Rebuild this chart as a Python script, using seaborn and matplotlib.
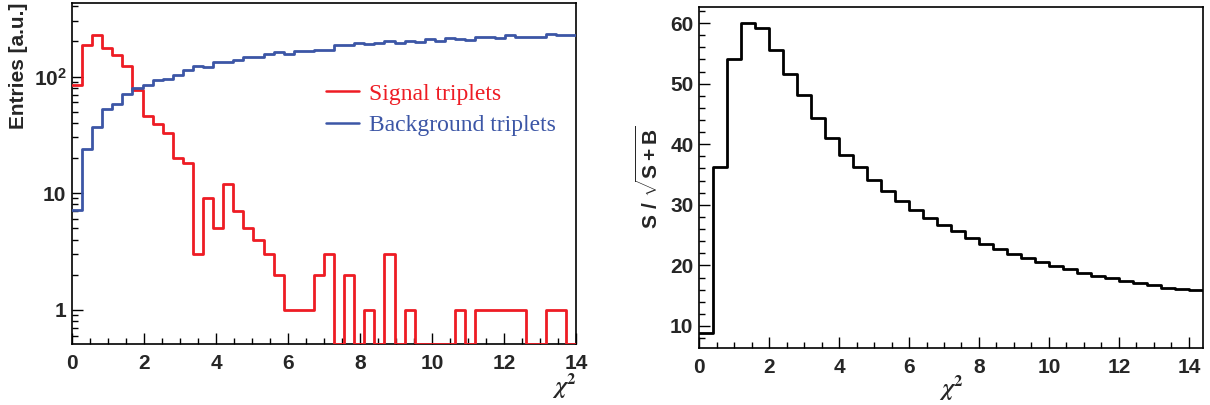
import numpy as np
import matplotlib
matplotlib.use("Agg")
import matplotlib.pyplot as plt
from matplotlib.ticker import MultipleLocator, LogLocator, NullFormatter, FixedLocator
import seaborn as sns

# left panel: chi2 distributions, 50 bins from 0 to 14
left_edges = np.linspace(0, 14, 51)
signal_counts = [84, 185, 229, 174, 152, 123, 76, 46, 39, 33,
                 20, 18, 3, 9, 5, 12, 7, 5, 4, 3,
                 2, 1, 1, 1, 2, 3, 0, 2, 0, 1,
                 0, 3, 0, 1, 0, 0, 0, 0, 1, 0,
                 1, 1, 1, 1, 1, 0, 0, 1, 1, 0]
background_counts = [7.1, 24, 37, 53, 58, 71, 80, 85, 93, 95,
                     104, 113, 123, 121, 133, 133, 138, 146, 147, 157,
                     161, 157, 165, 165, 170, 170, 185, 185, 192, 189,
                     192, 202, 192, 202, 198, 209, 203, 214, 209, 205,
                     220, 220, 214, 226, 217, 220, 220, 230, 226, 229]

# right panel: S/sqrt(S+B), 36 bins from 0 to 14.4
right_edges = np.linspace(0, 14.4, 37)
significance = [8.8, 36.2, 54.0, 60.0, 59.2, 55.5, 51.6, 48.1, 44.4, 41.1,
                38.3, 36.2, 34.1, 32.3, 30.6, 29.1, 27.9, 26.7, 25.7, 24.6,
                23.6, 22.75, 21.9, 21.2, 20.5, 19.9, 19.4, 18.8, 18.3, 17.9,
                17.5, 17.05, 16.7, 16.3, 16.1, 15.9]

sns.set_style("white")
plt.rcParams["font.family"] = ["Liberation Sans", "DejaVu Sans"]
plt.rcParams["font.weight"] = "bold"
plt.rcParams["mathtext.fontset"] = "custom"
plt.rcParams["mathtext.rm"] = "Liberation Sans:bold"
plt.rcParams["mathtext.bf"] = "Liberation Sans:bold"
plt.rcParams["mathtext.it"] = "Liberation Sans:bold"

red = "#ee1c24"
blue = "#3c56a6"
serif = ["Liberation Serif", "DejaVu Serif"]
chi2 = r"$\chi^{2}$"

fig = plt.figure(figsize=(12.1, 4.05), dpi=100)
ax1 = fig.add_axes([0.0595, 0.1506, 0.4165, 0.842])
ax2 = fig.add_axes([0.5777, 0.1407, 0.4165, 0.842])

y_low = 0.508


def steps(edges, vals, floor=None):
    v = np.asarray(vals, dtype=float)
    if floor is not None:
        v = np.where(v > 0, v, floor)  # empty bins drawn on the frame, like ROOT
    return edges, np.append(v, v[-1])


x, y = steps(left_edges, signal_counts, y_low)
sns.lineplot(x=x, y=y, ax=ax1, drawstyle="steps-post", color=red, lw=2.0,
             estimator=None, sort=False, label="Signal triplets", zorder=3)
x, y = steps(left_edges, background_counts)
sns.lineplot(x=x, y=y, ax=ax1, drawstyle="steps-post", color=blue, lw=2.0,
             estimator=None, sort=False, label="Background triplets", zorder=3)

ax1.set_yscale("log")
ax1.set_xlim(0, 14)
ax1.set_ylim(y_low, 427)
ax1.yaxis.set_major_locator(FixedLocator([1, 10, 100]))
ax1.set_yticklabels(["1", "10", r"$\mathbf{10^{2}}$"])
ax1.yaxis.set_minor_locator(LogLocator(subs=np.arange(2, 10)))
ax1.yaxis.set_minor_formatter(NullFormatter())
ax1.set_ylabel("Entries [a.u.]", fontsize=15, fontweight="bold", loc="top", labelpad=4)
ax1.set_xlabel(chi2, fontsize=17, loc="right", labelpad=-1, math_fontfamily="stix")

leg = ax1.legend(loc="upper left", bbox_to_anchor=(0.48, 0.80), frameon=False,
                 prop={"family": serif, "size": 17, "weight": "normal"},
                 handlelength=1.4, handletextpad=0.45, labelspacing=0.42,
                 borderpad=0, labelcolor="linecolor")
for h in leg.get_lines():
    h.set_linewidth(1.8)

x, y = steps(right_edges, significance)
sns.lineplot(x=x, y=y, ax=ax2, drawstyle="steps-post", color="black", lw=2.0,
             estimator=None, sort=False, zorder=3)
ax2.set_xlim(0, 14.4)
ax2.set_ylim(6.36, 62.65)
ax2.yaxis.set_major_locator(MultipleLocator(10))
ax2.yaxis.set_minor_locator(MultipleLocator(2))
ax2.set_ylabel(r"$\mathbf{S\ /\ \sqrt{S+B}}$", fontsize=15, labelpad=6)
ax2.set_xlabel(chi2, fontsize=17, labelpad=-3, math_fontfamily="stix")

for ax in (ax1, ax2):
    ax.xaxis.set_major_locator(MultipleLocator(2))
    ax.xaxis.set_minor_locator(MultipleLocator(0.5))
    ax.tick_params(which="both", direction="in", top=False, right=False,
                   bottom=True, left=True, labelsize=15, color="black")
    ax.tick_params(which="major", length=8, width=1.0)
    ax.tick_params(which="minor", length=4, width=1.0)
    ax.tick_params(axis="x", which="major", pad=7)
    ax.tick_params(axis="y", which="major", pad=4)
    for lab in ax.get_xticklabels() + ax.get_yticklabels():
        lab.set_fontweight("bold")
    for s in ax.spines.values():
        s.set_visible(True)
        s.set_color("black")
        s.set_linewidth(1.2)

fig.savefig("out.png", dpi=100)
